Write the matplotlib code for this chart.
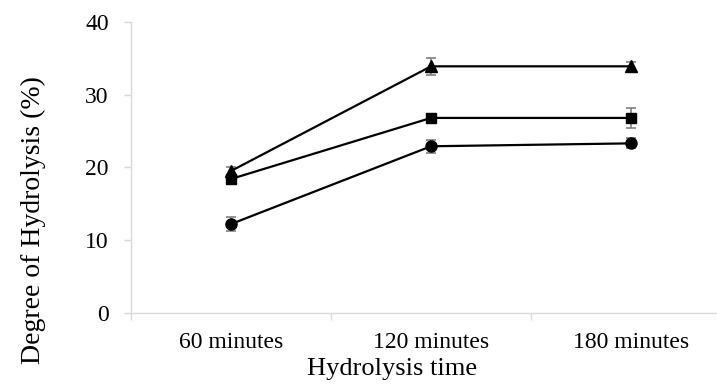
import matplotlib
matplotlib.use("Agg")
import matplotlib.pyplot as plt
import numpy as np

categories = ["60 minutes", "120 minutes", "180 minutes"]
series_triangle = [19.5, 33.9, 33.9]
err_triangle = [0.6, 1.2, 0.6]
series_square = [18.4, 26.8, 26.8]
err_square = [0.3, 0.3, 1.4]
series_circle = [12.2, 22.9, 23.3]
err_circle = [0.9, 0.9, 0.7]
yticks = [0, 10, 20, 30, 40]

plt.rcParams['font.family'] = ['Liberation Serif', 'DejaVu Serif']

fig = plt.figure(figsize=(7.17, 3.85), dpi=100)
ax = fig.add_axes([131/717, 1 - 312.7/385, 600/717, (312.7 - 22)/385])

x = np.arange(len(categories))
for vals, errs, mk, ms in [(series_triangle, err_triangle, '^', 8),
                           (series_square, err_square, 's', 7.5),
                           (series_circle, err_circle, 'o', 8)]:
    ax.errorbar(x, vals, yerr=errs, fmt='none', ecolor='#808080',
                elinewidth=1.2, capsize=3.5, capthick=1.2, zorder=2)
    ax.plot(x, vals, color='black', lw=1.6, marker=mk, markersize=ms,
            markerfacecolor='black', markeredgecolor='black', zorder=3)

ax.set_xlim(-0.5, 2.5)
ax.set_ylim(0, 40)
ax.set_yticks(yticks)
ax.set_xticks(x)
ax.set_xticklabels(categories)
ax.set_xticks([-0.5, 0.5, 1.5, 2.5], minor=True)
ax.tick_params(axis='x', which='major', length=0, pad=14, labelsize=17)
ax.tick_params(axis='x', which='minor', length=5, color='#d9d9d9', width=1)
ax.tick_params(axis='y', length=5, color='#d9d9d9', width=1, labelsize=17, pad=11)

for s in ['top', 'right']:
    ax.spines[s].set_visible(False)
for s in ['left', 'bottom']:
    ax.spines[s].set_color('#d9d9d9')
    ax.spines[s].set_linewidth(1)

ax.set_xlabel("Hydrolysis time", fontsize=19, va='baseline', ha='center')
ax.xaxis.set_label_coords((392 - 131) / 600, -(375 - 312.7) / 290.7)
ax.set_ylabel("Degree of Hydrolysis (%)", fontsize=20, va='center', ha='center')
ax.yaxis.set_label_coords((33 - 131) / 600, (312.7 - 220) / 290.7)

fig.savefig("out.png", dpi=100)
